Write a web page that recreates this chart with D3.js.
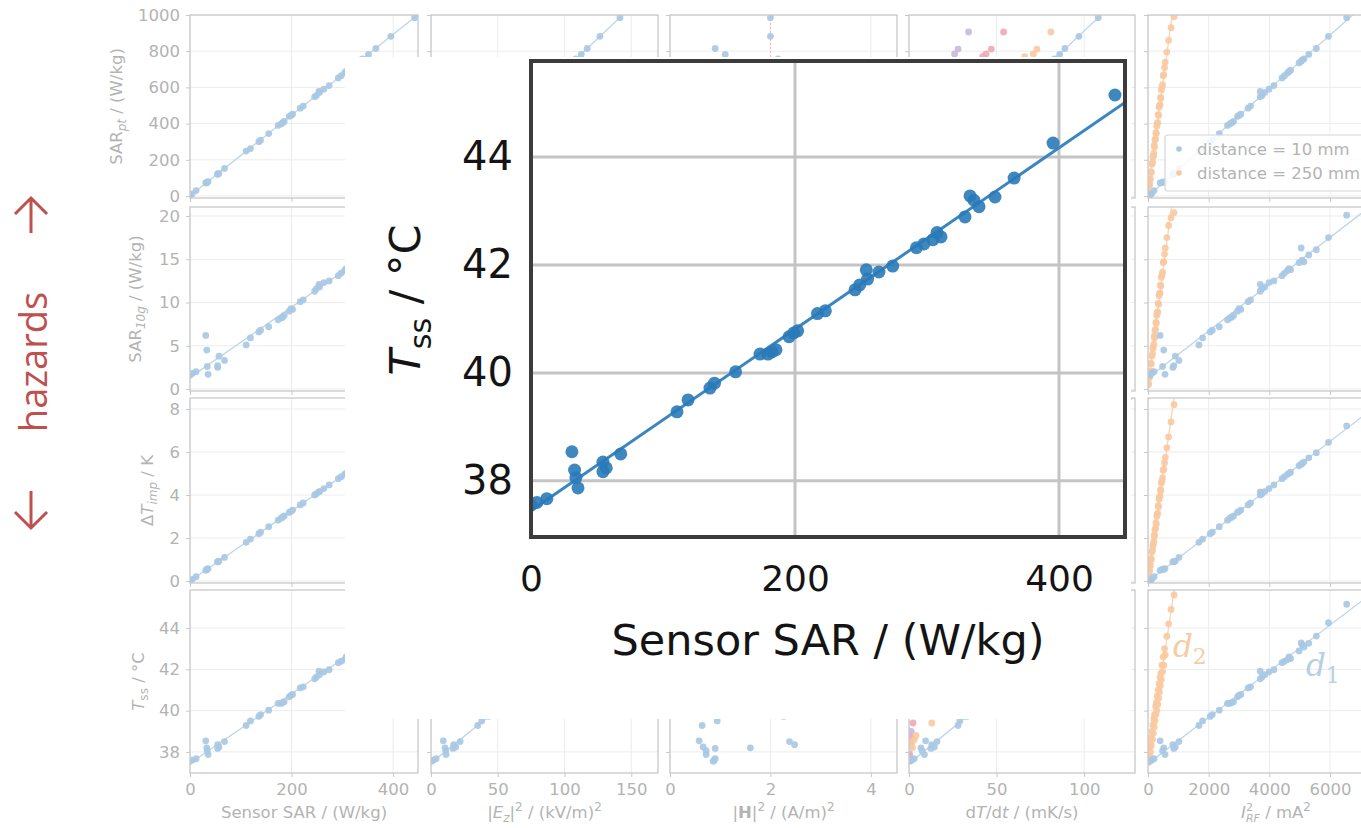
<!DOCTYPE html>
<html><head><meta charset="utf-8">
<script src="https://cdn.jsdelivr.net/npm/d3@7"></script>
<style>body{margin:0;background:#fff;} svg{display:block;}</style>
</head><body><svg id="c" width="1361" height="828"></svg>
<script>
// ---------- data (d1 = distance 10 mm) ----------
const sensorSAR = [0, 4.5, 12, 31, 33, 34, 35.6, 54.5, 57, 54.5, 68, 110.6, 119, 135.6, 139, 155, 173.5, 179.5, 182.5, 185.6, 195.5, 199, 202, 217, 223, 245.5, 249, 254, 255, 263.6, 274, 292, 297.7, 304.5, 307.6, 310.6, 328.8, 332.6, 335.6, 339.4, 351.5, 366, 395.5, 442.4];
const tssVals = [37.55, 37.6, 37.67, 38.54, 38.2, 38.06, 37.87, 38.35, 38.24, 38.17, 38.5, 39.28, 39.5, 39.72, 39.81, 40.02, 40.35, 40.35, 40.39, 40.43, 40.67, 40.74, 40.78, 41.1, 41.15, 41.54, 41.63, 41.91, 41.74, 41.87, 41.98, 42.32, 42.39, 42.47, 42.6, 42.52, 42.89, 43.28, 43.2, 43.08, 43.26, 43.61, 44.26, 45.15];
const sarPtVals = [5, 12, 30, 72, 75, 76, 80, 122, 125, 120, 152, 248, 262, 300, 308, 345, 390, 398, 405, 412, 440, 445, 452, 485, 497, 548, 555, 578, 572, 590, 610, 652, 665, 680, 688, 695, 735, 745, 750, 757, 782, 815, 882, 985];
const sar10gVals = [1.6, 1.8, 2.0, 6.2, 4.5, 2.6, 1.7, 2.5, 3.8, 2.7, 3.3, 5.1, 5.9, 6.6, 6.8, 7.2, 8.0, 8.2, 8.3, 8.5, 9.0, 9.3, 9.2, 10.1, 10.3, 11.3, 11.6, 12.1, 11.8, 12.3, 12.5, 13.1, 13.4, 13.7, 13.9, 13.8, 14.6, 16.3, 14.9, 14.7, 15.5, 16.1, 17.5, 20.1];
const dTimpVals = [0.0, 0.08, 0.2, 0.5, 0.54, 0.55, 0.58, 0.89, 0.93, 0.9, 1.1, 1.8, 1.95, 2.2, 2.27, 2.53, 2.83, 2.92, 2.97, 3.03, 3.19, 3.24, 3.3, 3.54, 3.63, 4.0, 4.06, 4.15, 4.16, 4.3, 4.47, 4.76, 4.85, 4.96, 5.01, 5.06, 5.36, 5.42, 5.47, 5.53, 5.73, 5.97, 6.45, 7.21];
const ez2Vals = [0.3, 1.5, 3.8, 9.2, 10.5, 11, 11.3, 17, 18.5, 16.5, 21.8, 35, 38, 43, 44.5, 49.5, 55.5, 57, 58.5, 59.5, 62.5, 64, 65, 69.5, 71.5, 78.5, 80, 81.5, 82, 84.5, 88, 93.5, 95, 97.5, 98.5, 99.5, 105, 106.5, 107.5, 108.5, 112.5, 117, 126.5, 141.5];
const h2Vals = [0.86, 0.88, 0.9, 0.58, 1.6, 0.72, 0.72, 2.48, 0.66, 0.9, 2.38, 0.64, 0.94, 2.26, 1.2, 0.8, 1.9, 2.1, 0.7, 1.4, 2.5, 1.0, 1.7, 0.62, 2.2, 1.3, 0.95, 2.4, 1.1, 1.8, 0.75, 2.05, 1.5, 0.85, 2.3, 1.25, 0.68, 1.95, 1.05, 2.15, 1.1, 0.9, 2.0, 2.0];
const dTdtVals = [0.5, 1.5, 3, 9.5, 6.8, 7.5, 8.8, 13, 14.5, 12.5, 16, 28, 29, 33, 34, 38, 42.5, 44, 44.5, 45.5, 48, 49, 49.5, 53, 54.5, 60, 61, 62, 62.5, 64.5, 67, 71.5, 73, 74.5, 75.5, 76, 80.5, 81.5, 82, 83, 86, 89, 97, 108];
const irf2Vals = [60, 120, 200, 400, 520, 480, 560, 820, 900, 850, 1020, 1680, 1800, 2050, 2120, 2350, 2620, 2700, 2760, 2820, 2950, 3000, 3060, 3300, 3380, 3700, 3760, 3700, 3850, 3990, 4150, 4420, 4500, 4600, 4650, 4700, 4980, 5050, 5080, 5140, 5300, 5550, 5950, 6550];

// dT/dt extra series
const dTdtOrangeX = [0.5, 2, 1.5, 3, 4, 13, 30, 45, 58, 66, 71, 73, 81];
const dTdtOrangeSarPt = [20, 60, 80, 110, 150, 260, 420, 560, 680, 770, 785, 812, 906];
const dTdtOrangeTss = [37.6, 38.2, 38.4, 38.6, 38.8, 39.4, 40.5, 41.5, 42.5, 43.1, 43.3, 43.5, 44.3];
const dTdtRedX = [0.5, 1, 1.5, 2.3, 10, 25, 38, 42, 44, 47, 54];
const dTdtRedSarPt = [30, 80, 120, 260, 400, 600, 730, 770, 785, 812, 906];
const dTdtRedTss = [37.8, 38.3, 38.7, 39.4, 40.3, 41.6, 42.9, 43.1, 43.3, 43.5, 44.3];
const dTdtPurpleX = [0.3, 0.8, 1.2, 8, 18, 24, 26, 28, 34];
const dTdtPurpleSarPt = [40, 100, 200, 450, 640, 740, 785, 812, 906];
const dTdtPurpleTss = [37.9, 38.4, 39.0, 40.6, 42.1, 42.9, 43.3, 43.5, 44.3];

// d2 = distance 250 mm
const irf2D2 = [10, 25, 40, 55, 60, 80, 95, 110, 130, 150, 160, 175, 190, 205, 215, 230, 250, 260, 275, 290, 300, 320, 335, 350, 365, 380, 395, 410, 425, 440, 460, 480, 500, 520, 545, 570, 620, 680, 760, 860];
const sarPtD2 = [20, 25, 60, 65, 90, 95, 135, 130, 175, 185, 215, 220, 235, 280, 270, 310, 315, 350, 345, 385, 400, 405, 450, 445, 490, 500, 505, 545, 540, 585, 600, 615, 665, 670, 710, 740, 795, 860, 930, 990];
const sar10gD2 = [0.5, 0.6, 1.3, 1.4, 2.0, 2.1, 3.0, 2.9, 3.8, 4.1, 4.7, 4.8, 5.2, 6.1, 5.9, 6.8, 6.9, 7.7, 7.6, 8.5, 8.8, 8.9, 9.9, 9.8, 10.8, 11.0, 11.1, 12.0, 11.9, 12.9, 13.2, 13.5, 14.6, 14.7, 15.6, 16.3, 17.5, 18.9, 19.8, 20.4];
const dTimpD2 = [0.15, 0.2, 0.45, 0.5, 0.7, 0.75, 1.05, 1.0, 1.35, 1.45, 1.65, 1.7, 1.85, 2.15, 2.1, 2.4, 2.45, 2.7, 2.65, 3.0, 3.1, 3.15, 3.5, 3.45, 3.8, 3.9, 3.95, 4.25, 4.2, 4.55, 4.65, 4.8, 5.15, 5.2, 5.5, 5.75, 6.2, 6.7, 7.4, 8.2];
const tssD2 = [37.8, 37.5, 38.2, 37.8, 38.4, 38.0, 38.7, 38.3, 39.0, 38.6, 39.3, 38.9, 39.6, 39.2, 39.8, 39.5, 40.2, 39.8, 40.4, 40.0, 40.7, 40.3, 41.0, 40.6, 41.3, 40.9, 41.6, 41.2, 41.8, 41.5, 42.2, 41.9, 42.6, 42.2, 43.0, 42.7, 43.6, 44.2, 44.9, 45.6];

// ticks / labels
const rowTicks = [[0, 200, 400, 600, 800, 1000], [0, 5, 10, 15, 20], [0, 2, 4, 6, 8], [38, 40, 42, 44]];
const colTicks = [[0, 200, 400], [0, 50, 100, 150], [0, 2, 4], [0, 50, 100], [0, 2000, 4000, 6000]];
const insetXTicks = [0, 200, 400];
const insetYTicks = [38, 40, 42, 44];
const legendLabels = ["distance = 10 mm", "distance = 250 mm"];
const hazardsLabel = "hazards";

// ---------- layout ----------
const svg = d3.select("#c");
const colX = [[190, 418], [431, 658], [670, 897], [909, 1135], [1148, 1404]];
const colDomain = [[0, 449], [0, 170], [0, 4.52], [0, 129], [0, 8440]];
const rowY = [[15, 198], [207, 391], [398, 583], [590, 773]];
const rowDomain = [[-11, 1000], [-0.23, 21.04], [-0.09, 8.51], [36.98, 45.84]];

const C = {blue: "#a9c8e3", blueL: "#bcd5ea", orange: "#f8c9a0", orangeL: "#f9d4b1", red: "#eea7b6", purple: "#c9b7dc"};
const TXT = "#b3b3b3", FRAME = "#c8c8c8", GRID = "#ececec";
const FS = 16.5;

const yAll = [sarPtVals, sar10gVals, dTimpVals, tssVals];
const columns = [
  [{x: sensorSAR, ys: yAll, col: C.blue, lc: C.blueL, line: true}],
  [{x: ez2Vals, ys: yAll, col: C.blue, lc: C.blueL, line: true}],
  [{x: h2Vals, ys: yAll, col: C.blue, line: false}],
  [{x: dTdtPurpleX, ys: [dTdtPurpleSarPt, null, null, dTdtPurpleTss], col: C.purple, line: false},
   {x: dTdtRedX, ys: [dTdtRedSarPt, null, null, dTdtRedTss], col: C.red, line: false},
   {x: dTdtOrangeX, ys: [dTdtOrangeSarPt, null, null, dTdtOrangeTss], col: C.orange, line: false},
   {x: dTdtVals, ys: yAll, col: C.blue, lc: C.blueL, line: true}],
  [{x: irf2D2, ys: [sarPtD2, sar10gD2, dTimpD2, tssD2], col: C.orange, lc: C.orangeL, line: true},
   {x: irf2Vals, ys: yAll, col: C.blue, lc: C.blueL, line: true}]
];

function fit(xs, ys) {
  const n = xs.length, mx = d3.mean(xs), my = d3.mean(ys);
  let sxy = 0, sxx = 0;
  for (let i = 0; i < n; i++) { sxy += (xs[i] - mx) * (ys[i] - my); sxx += (xs[i] - mx) ** 2; }
  const b = sxy / sxx; return {b, a: my - b * mx};
}

function richText(sel, parts, fs) {
  let cur = 0;
  parts.forEach(p => {
    const s = p.s || 0;
    const t = sel.append("tspan").text(p.t).attr("dy", s - cur);
    if (p.dx) t.attr("dx", p.dx);
    if (p.i) t.attr("font-style", "italic");
    if (p.b) t.attr("font-weight", "bold");
    t.attr("font-size", p.fs || fs);
    cur = s;
  });
}

const yLabels = [
  [{t: "SAR"}, {t: "pt", s: 4, fs: 12, i: 1}, {t: " / (W/kg)"}],
  [{t: "SAR"}, {t: "10g", s: 4, fs: 12, i: 1}, {t: " / (W/kg)"}],
  [{t: "Δ"}, {t: "T", i: 1}, {t: "imp", s: 4, fs: 12, i: 1}, {t: " / K"}],
  [{t: "T", i: 1}, {t: "ss", s: 4, fs: 12}, {t: " / °C"}]
];
const yLabelX = [122, 141, 153, 144];
const xLabels = [
  [{t: "Sensor SAR / (W/kg)"}],
  [{t: "|"}, {t: "E", i: 1}, {t: "z", s: 4, fs: 12, i: 1}, {t: "|"}, {t: "2", s: -7, fs: 12}, {t: " / (kV/m)"}, {t: "2", s: -7, fs: 12}],
  [{t: "|"}, {t: "H", b: 1}, {t: "|"}, {t: "2", s: -7, fs: 12}, {t: " / (A/m)"}, {t: "2", s: -7, fs: 12}],
  [{t: "d"}, {t: "T", i: 1}, {t: "/d"}, {t: "t", i: 1}, {t: " / (mK/s)"}],
  [{t: "I", i: 1}, {t: "2", s: -7, fs: 11}, {t: "RF", s: 4, fs: 11, i: 1, dx: -7}, {t: " / mA"}, {t: "2", s: -7, fs: 12}]
];

const defs = svg.append("defs");
const panels = svg.append("g").attr("font-family", "DejaVu Sans");

for (let r = 0; r < 4; r++) {
  for (let c = 0; c < 5; c++) {
    const x = d3.scaleLinear().domain(colDomain[c]).range(colX[c]);
    const y = d3.scaleLinear().domain(rowDomain[r]).range([rowY[r][1], rowY[r][0]]);
    const g = panels.append("g");
    const id = `clip${r}_${c}`;
    defs.append("clipPath").attr("id", id).append("rect")
      .attr("x", colX[c][0]).attr("y", rowY[r][0])
      .attr("width", colX[c][1] - colX[c][0]).attr("height", rowY[r][1] - rowY[r][0]);
    const inner = g.append("g").attr("clip-path", `url(#${id})`);
    inner.selectAll(".gx").data(colTicks[c]).join("line")
      .attr("x1", d => x(d)).attr("x2", d => x(d)).attr("y1", rowY[r][0]).attr("y2", rowY[r][1])
      .attr("stroke", GRID).attr("stroke-width", 1);
    inner.selectAll(".gy").data(rowTicks[r]).join("line")
      .attr("x1", colX[c][0]).attr("x2", colX[c][1]).attr("y1", d => y(d)).attr("y2", d => y(d))
      .attr("stroke", GRID).attr("stroke-width", 1);
    if (c === 2 && r === 0) {
      inner.append("line").attr("x1", x(2)).attr("x2", x(2)).attr("y1", rowY[r][0]).attr("y2", rowY[r][1])
        .attr("stroke", "#f3b7bd").attr("stroke-width", 1).attr("stroke-dasharray", "2,2");
    }
    columns[c].forEach(s => {
      const ys = s.ys[r];
      if (!ys) return;
      if (s.line) {
        const f = fit(s.x, ys);
        const d0 = colDomain[c][0], d1 = colDomain[c][1];
        inner.append("line").attr("x1", x(d0)).attr("y1", y(f.a + f.b * d0))
          .attr("x2", x(d1)).attr("y2", y(f.a + f.b * d1))
          .attr("stroke", s.lc).attr("stroke-width", 1.3);
      }
      inner.selectAll(null).data(s.x.map((v, i) => [v, ys[i]])).join("circle")
        .attr("cx", d => x(d[0])).attr("cy", d => y(d[1])).attr("r", 3.4)
        .attr("fill", s.col).attr("fill-opacity", 0.9);
    });
    g.append("rect").attr("x", colX[c][0]).attr("y", rowY[r][0])
      .attr("width", colX[c][1] - colX[c][0]).attr("height", rowY[r][1] - rowY[r][0])
      .attr("fill", "none").attr("stroke", FRAME).attr("stroke-width", 1.3);
    const ay = g.append("g").attr("transform", `translate(${colX[c][0]},0)`)
      .call(d3.axisLeft(y).tickValues(rowTicks[r]).tickSize(4).tickPadding(6)
        .tickFormat(c === 0 ? d3.format("d") : () => ""));
    const ax = g.append("g").attr("transform", `translate(0,${rowY[r][1]})`)
      .call(d3.axisBottom(x).tickValues(colTicks[c]).tickSize(4).tickPadding(6)
        .tickFormat(r === 3 ? d3.format("d") : () => ""));
    [ay, ax].forEach(a => {
      a.select(".domain").remove();
      a.selectAll("line").attr("stroke", FRAME);
      a.selectAll("text").attr("fill", TXT).attr("font-size", FS).attr("font-family", "DejaVu Sans");
    });
    if (c === 0) {
      const t = g.append("text").attr("transform", `translate(${yLabelX[r]},${(rowY[r][0] + rowY[r][1]) / 2}) rotate(-90)`)
        .attr("text-anchor", "middle").attr("fill", TXT).attr("font-size", FS);
      richText(t, yLabels[r], FS);
    }
    if (r === 3) {
      const t = g.append("text").attr("x", (colX[c][0] + colX[c][1]) / 2).attr("y", 818)
        .attr("text-anchor", "middle").attr("fill", TXT).attr("font-size", FS);
      richText(t, xLabels[c], FS);
    }
  }
}

// legend (col 5 row 1)
const lg = panels.append("g");
lg.append("rect").attr("x", 1165).attr("y", 135).attr("width", 215).attr("height", 56).attr("rx", 3)
  .attr("fill", "#fff").attr("fill-opacity", 0.85).attr("stroke", "#d6d6d6").attr("stroke-width", 1.2);
legendLabels.forEach((l, i) => {
  lg.append("circle").attr("cx", 1179).attr("cy", 149 + i * 24).attr("r", 2.8).attr("fill", [C.blue, C.orange][i]);
  lg.append("text").attr("x", 1197).attr("y", 149 + i * 24).attr("dy", "0.35em").attr("fill", TXT)
    .attr("font-size", FS).text(l);
});
// d labels
const dl = svg.append("g").attr("font-family", "DejaVu Serif").attr("font-style", "italic");
const d2t = dl.append("text").attr("x", 1173).attr("y", 657).attr("fill", "#f6cba6").attr("font-size", 31);
d2t.append("tspan").text("d"); d2t.append("tspan").text("2").attr("font-size", 22).attr("dy", 7).attr("font-style", "normal");
const d1t = dl.append("text").attr("x", 1306).attr("y", 676).attr("fill", "#b5d0e6").attr("font-size", 31);
d1t.append("tspan").text("d"); d1t.append("tspan").text("1").attr("font-size", 22).attr("dy", 7).attr("font-style", "normal");

// ---------- inset ----------
svg.append("rect").attr("x", 345).attr("y", 57).attr("width", 786).attr("height", 662).attr("fill", "#fff");
const ix = d3.scaleLinear().domain([0, 450]).range([531, 1125]);
const iy = d3.scaleLinear().domain([36.96, 45.78]).range([537, 61]);
const ins = svg.append("g").attr("font-family", "DejaVu Sans");
defs.append("clipPath").attr("id", "iclip").append("rect").attr("x", 531).attr("y", 61).attr("width", 594).attr("height", 476);
const ii = ins.append("g").attr("clip-path", "url(#iclip)");
ii.selectAll(".hg").data(insetYTicks).join("line")
  .attr("x1", 531).attr("x2", 1125).attr("y1", d => iy(d)).attr("y2", d => iy(d))
  .attr("stroke", "#c4c4c4").attr("stroke-width", 3);
ii.selectAll(".vg").data(insetXTicks).join("line")
  .attr("x1", d => ix(d)).attr("x2", d => ix(d)).attr("y1", 61).attr("y2", 537)
  .attr("stroke", "#c4c4c4").attr("stroke-width", 3);
const f0 = fit(sensorSAR, tssVals);
ii.append("line").attr("x1", ix(0)).attr("y1", iy(f0.a)).attr("x2", ix(450)).attr("y2", iy(f0.a + f0.b * 450))
  .attr("stroke", "#3a87c0").attr("stroke-width", 3);
ii.selectAll(".ip").data(sensorSAR.map((v, i) => [v, tssVals[i]])).join("circle")
  .attr("cx", d => ix(d[0])).attr("cy", d => iy(d[1])).attr("r", 6.5)
  .attr("fill", "#2a7ab8").attr("fill-opacity", 0.9);
ins.append("rect").attr("x", 531).attr("y", 61).attr("width", 594).attr("height", 476)
  .attr("fill", "none").attr("stroke", "#3c3c3c").attr("stroke-width", 4);
const iay = ins.append("g").attr("transform", "translate(531,0)")
  .call(d3.axisLeft(iy).tickValues(insetYTicks).tickSize(0).tickPadding(18).tickFormat(d3.format("d")));
const iax = ins.append("g").attr("transform", "translate(0,537)")
  .call(d3.axisBottom(ix).tickValues(insetXTicks).tickSize(0).tickPadding(28).tickFormat(d3.format("d")));
iay.select(".domain").remove();
iax.select(".domain").remove();
iay.selectAll("text").attr("fill", "#141414").attr("font-size", 40).attr("font-family", "DejaVu Sans");
iax.selectAll("text").attr("fill", "#141414").attr("font-size", 36).attr("font-family", "DejaVu Sans");
ins.append("text").attr("x", 828).attr("y", 655).attr("text-anchor", "middle").attr("fill", "#141414")
  .attr("font-size", 43).text("Sensor SAR / (W/kg)");
const iyl = ins.append("text").attr("transform", "translate(420,300) rotate(-90)").attr("text-anchor", "middle")
  .attr("fill", "#141414").attr("font-size", 43);
richText(iyl, [{t: "T", i: 1}, {t: "ss", s: 11, fs: 30}, {t: " / °C"}], 43);

// ---------- hazards ----------
const hz = svg.append("g").attr("stroke", "#c0504d").attr("stroke-width", 3).attr("fill", "none");
hz.append("path").attr("d", "M31,233 L31,198 M15,214 L31,198 L47,214");
hz.append("path").attr("d", "M31,491 L31,528 M15,512 L31,528 L47,512");
svg.append("text").attr("transform", "translate(47,362) rotate(-90)").attr("text-anchor", "middle")
  .attr("fill", "#c0504d").attr("font-family", "Open Sans").attr("font-size", 38).text(hazardsLabel);
</script></body></html>
